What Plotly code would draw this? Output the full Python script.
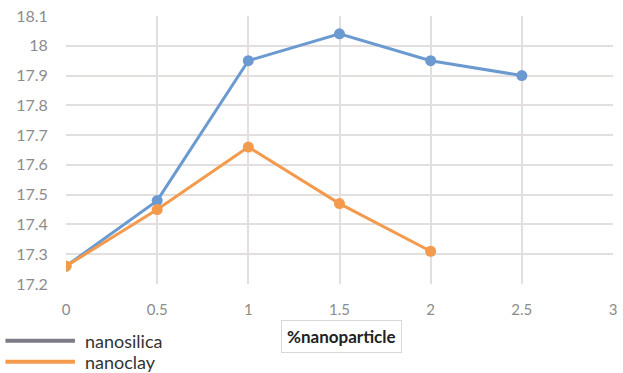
import plotly.graph_objects as go

# Measured values
x_silica = [0, 0.5, 1, 1.5, 2, 2.5]
y_silica = [17.26, 17.48, 17.95, 18.04, 17.95, 17.90]
x_clay = [0, 0.5, 1, 1.5, 2]
y_clay = [17.26, 17.45, 17.66, 17.47, 17.31]

x_ticks = [0, 0.5, 1, 1.5, 2, 2.5, 3]
y_ticks = [17.2, 17.3, 17.4, 17.5, 17.6, 17.7, 17.8, 17.9, 18, 18.1]

BLUE = "#6b9ad0"
ORANGE = "#f39a4c"
FONT = "Lato, Open Sans, sans-serif"

W, H = 623, 373
ML, MR, MT, MB = 66, 6, 15, 89
PW, PH = W - ML - MR, H - MT - MB


def px_x(x):
    return (x - ML) / PW


def px_y(y):
    return (H - MB - y) / PH


fig = go.Figure()
fig.add_trace(go.Scatter(x=x_silica, y=y_silica, mode="lines+markers", name="nanosilica",
                         line=dict(color=BLUE, width=3), marker=dict(size=11, color=BLUE),
                         showlegend=False))
fig.add_trace(go.Scatter(x=x_clay, y=y_clay, mode="lines+markers", name="nanoclay",
                         line=dict(color=ORANGE, width=3), marker=dict(size=11, color=ORANGE),
                         showlegend=False))

# Legend drawn below the axis, bottom-left
legend_items = [("nanosilica", "#7b7c86", 341), ("nanoclay", ORANGE, 362)]
for label, col, ypx in legend_items:
    yp = px_y(ypx)
    fig.add_shape(type="line", xref="paper", yref="paper",
                  x0=px_x(5), x1=px_x(75), y0=yp, y1=yp,
                  line=dict(color=col, width=4))
    fig.add_annotation(text=label, xref="paper", yref="paper",
                       x=px_x(83), y=yp, xanchor="left", yanchor="middle",
                       showarrow=False, font=dict(family=FONT, size=18, color="#333333"))

# Boxed axis title
fig.add_annotation(text="<b>%nanoparticle</b>", xref="paper", yref="paper",
                   x=px_x(344), y=px_y(337),
                   xanchor="center", yanchor="middle", showarrow=False,
                   font=dict(family=FONT, size=17, color="#222222"),
                   bordercolor="#d8d8d8", borderwidth=1, borderpad=5, bgcolor="white")

fig.update_xaxes(range=[0, 3], tickvals=x_ticks, ticktext=[str(v) for v in x_ticks],
                 showgrid=True, gridcolor="#e4dfdf", gridwidth=1.5, zeroline=False,
                 showline=False, tickfont=dict(family=FONT, size=15, color="#8c8c8c"),
                 ticks="outside", ticklen=12, tickcolor="rgba(0,0,0,0)")
fig.update_yaxes(range=[17.2, 18.1], tickvals=y_ticks, ticktext=[f"{v:g}" for v in y_ticks],
                 showgrid=True, gridcolor="#e4dfdf", gridwidth=1.5, zeroline=False,
                 showline=False, tickfont=dict(family=FONT, size=16, color="#8c8c8c"),
                 ticks="outside", ticklen=14, tickcolor="rgba(0,0,0,0)")

fig.update_layout(width=W, height=H, margin=dict(l=ML, r=MR, t=MT, b=MB),
                  paper_bgcolor="white", plot_bgcolor="white", showlegend=False)

fig.write_html("out.html")
